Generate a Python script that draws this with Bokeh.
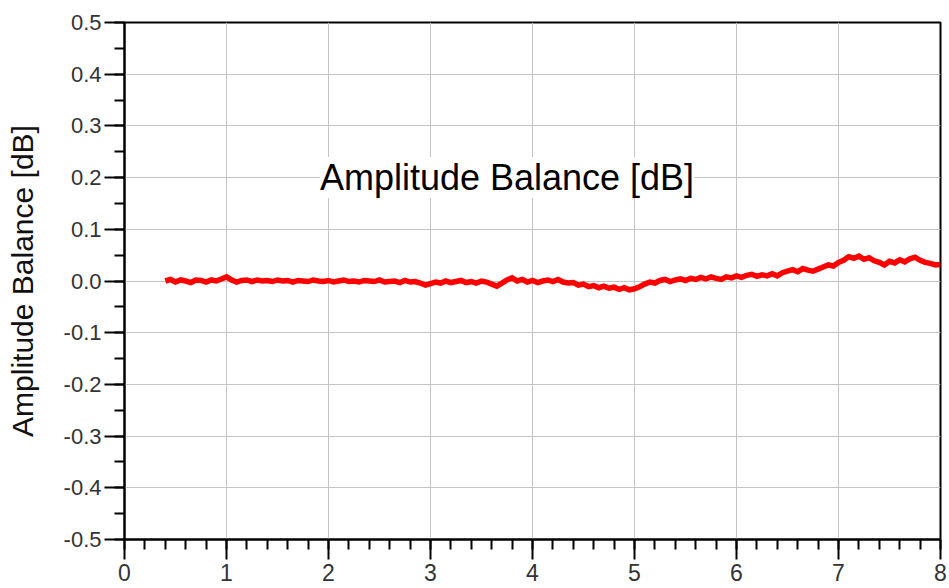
import numpy as np
from bokeh.plotting import figure
from bokeh.models import (Range1d, FixedTicker, Label, ColumnDataSource)
from bokeh.embed import file_html
from bokeh.resources import INLINE

# ---- data ----
freq_start = 0.40
freq_step = 0.05
balance_db = [
    0.000, 0.003, -0.002, 0.002, 0.000, -0.003, 0.002, 0.001, -0.002, 0.002,
    0.000, 0.004, 0.008, 0.002, -0.002, 0.001, 0.002, -0.001, 0.002, 0.000,
    0.001, -0.001, 0.002, 0.000, 0.001, -0.002, 0.001, 0.000, -0.001, 0.002,
    0.000, -0.001, 0.001, -0.002, 0.000, 0.002, -0.001, 0.000, -0.002, 0.001,
    0.000, -0.001, 0.002, -0.002, -0.001, 0.000, -0.003, 0.001, -0.002, -0.001,
    -0.004, -0.008, -0.005, -0.002, -0.004, 0.000, -0.003, -0.001, 0.001, -0.003,
    -0.001, -0.004, 0.000, -0.002, -0.006, -0.010, -0.004, 0.002, 0.006, 0.000,
    0.003, -0.002, 0.001, -0.003, 0.000, 0.002, -0.001, 0.003, -0.002, -0.004,
    -0.003, -0.008, -0.006, -0.011, -0.009, -0.013, -0.010, -0.014, -0.012, -0.016,
    -0.013, -0.017, -0.015, -0.011, -0.006, -0.002, -0.004, 0.001, 0.003, -0.001,
    0.002, 0.004, 0.001, 0.005, 0.003, 0.007, 0.004, 0.008, 0.005, 0.003,
    0.008, 0.006, 0.010, 0.007, 0.011, 0.013, 0.009, 0.012, 0.010, 0.014,
    0.010, 0.016, 0.019, 0.022, 0.018, 0.024, 0.021, 0.019, 0.023, 0.027,
    0.031, 0.029, 0.036, 0.040, 0.047, 0.044, 0.048, 0.042, 0.045, 0.039,
    0.036, 0.031, 0.038, 0.035, 0.041, 0.037, 0.043, 0.046, 0.040, 0.036,
    0.034, 0.031, 0.032,
]
freq = [round(freq_start + i * freq_step, 2) for i in range(len(balance_db))]

x_ticks = [0, 1, 2, 3, 4, 5, 6, 7, 8]
x_minor = [round(i * 0.2, 1) for i in range(41)]
y_ticks = [-0.5, -0.4, -0.3, -0.2, -0.1, 0.0, 0.1, 0.2, 0.3, 0.4, 0.5]
y_minor = [round(-0.5 + i * 0.05, 2) for i in range(21)]
y_tick_labels = {v: f"{v:.1f}" for v in y_ticks}
title_text = "Amplitude Balance [dB]"
y_label_text = "Amplitude Balance [dB]"

FONT = "Liberation Sans"

p = figure(width=949, height=588, output_backend="svg", toolbar_location=None,
           x_range=Range1d(0, 8), y_range=Range1d(-0.5, 0.5),
           min_border_left=124, min_border_top=22, min_border_right=9,
           min_border_bottom=49)
p.background_fill_color = "white"
p.border_fill_color = "white"
p.outline_line_color = "black"
p.outline_line_width = 2

# axes
p.xaxis.ticker = FixedTicker(ticks=x_ticks, minor_ticks=x_minor)
p.yaxis.ticker = FixedTicker(ticks=y_ticks, minor_ticks=y_minor)
p.yaxis.major_label_overrides = y_tick_labels
for ax in (p.xaxis[0], p.yaxis[0]):
    ax.axis_line_color = "black"
    ax.axis_line_width = 2
    ax.major_tick_line_color = "black"
    ax.major_tick_line_width = 2
    ax.minor_tick_line_color = "black"
    ax.minor_tick_line_width = 2
    ax.major_tick_in = 0
    ax.minor_tick_in = 0
    ax.major_tick_out = 20
    ax.minor_tick_out = 10
    ax.major_label_text_font = FONT
    ax.major_label_text_font_size = "22px"
    ax.major_label_text_color = "#333333"
    ax.major_label_standoff = 3
p.xaxis.major_label_text_font_size = "23px"
p.xaxis.major_label_standoff = 4
p.yaxis.axis_label = y_label_text
p.yaxis.axis_label_text_font = FONT
p.yaxis.axis_label_text_font_size = "30px"
p.yaxis.axis_label_text_font_style = "normal"
p.yaxis.axis_label_text_color = "#111111"
p.yaxis.axis_label_standoff = 22

# grid
p.xgrid.ticker = FixedTicker(ticks=x_ticks)
p.ygrid.ticker = FixedTicker(ticks=y_ticks)
p.xgrid.grid_line_color = "#c4c4c4"
p.ygrid.grid_line_color = "#c4c4c4"
p.xgrid.grid_line_width = 1
p.ygrid.grid_line_width = 1

# data
src = ColumnDataSource(dict(f=freq, b=balance_db))
p.line("f", "b", source=src, line_color="#ff0000", line_width=5.5, line_join="miter")

# title inside the plot
lbl = Label(x=3.75, y=0.2, text=title_text, text_align="center", text_baseline="middle",
            text_font=FONT, text_font_size="36px", text_color="black",
            background_fill_color="white", background_fill_alpha=1.0)
p.add_layout(lbl)

open("out.html", "w").write(file_html(p, INLINE))
